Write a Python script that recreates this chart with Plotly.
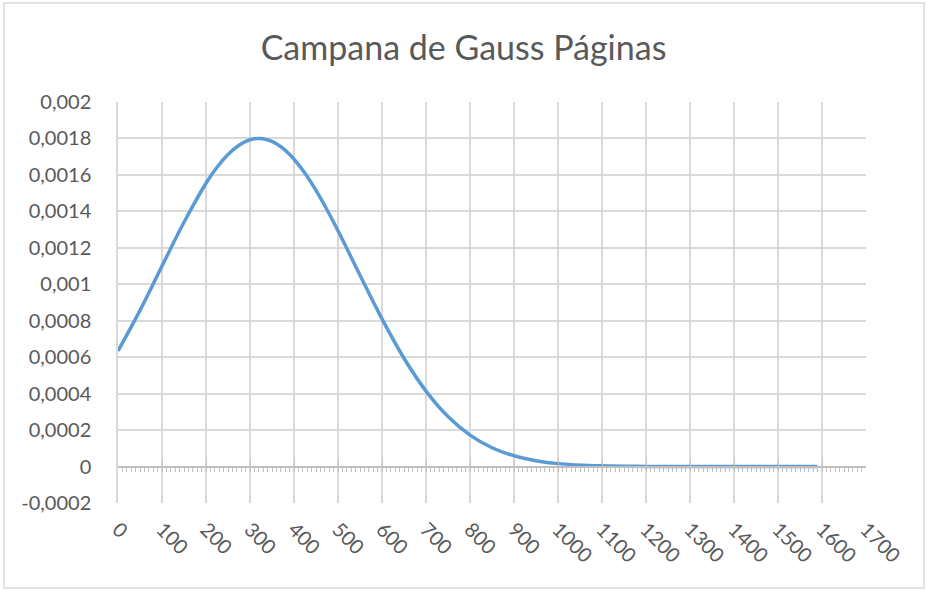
import plotly.graph_objects as go

# Data
x_vals = [0, 50, 100, 150, 200, 225, 250, 275, 300, 325, 350, 375, 400, 425, 450, 475,
          500, 550, 600, 650, 700, 750, 800, 850, 900, 950, 1000, 1100, 1200, 1300,
          1400, 1500, 1590]
y_vals = [0.000634, 0.000857, 0.00110, 0.00134, 0.001554, 0.001642, 0.001712, 0.001763,
          0.001793, 0.001800, 0.001784, 0.001745, 0.001686, 0.001609, 0.001515, 0.001409,
          0.001294, 0.00105, 0.00081, 0.000594, 0.000414, 0.000274, 0.000172, 0.000103,
          0.000059, 0.000032, 0.000016, 0.000004, 0.0000007, 0.0000001, 0.0, 0.0, 0.0]

x_ticks = list(range(0, 1701, 100))
y_ticks = [-0.0002, 0.0, 0.0002, 0.0004, 0.0006, 0.0008, 0.001, 0.0012, 0.0014,
           0.0016, 0.0018, 0.002]
y_tick_text = ["-0,0002", "0", "0,0002", "0,0004", "0,0006", "0,0008", "0,001",
               "0,0012", "0,0014", "0,0016", "0,0018", "0,002"]

title_text = "Campana de Gauss Páginas"

FONT = "Lato, 'Open Sans', sans-serif"
GRID = "#d9d9d9"
TXT = "#595959"

x_range = [0, 1700]
y_range = [-0.0002, 0.002]

fig = go.Figure()
fig.add_trace(go.Scatter(x=x_vals, y=y_vals, mode="lines",
                         line=dict(color="#5b9bd5", width=3.5, shape="spline",
                                   smoothing=1.0),
                         hoverinfo="skip", showlegend=False))
# helper trace on the zero-line axis (invisible) so the axis is drawn
fig.add_trace(go.Scatter(x=x_vals, y=y_vals, mode="lines", xaxis="x2", yaxis="y",
                         line=dict(color="rgba(0,0,0,0)", width=0),
                         hoverinfo="skip", showlegend=False))

zero_pos = (0 - y_range[0]) / (y_range[1] - y_range[0])

fig.update_layout(
    width=927, height=590,
    margin=dict(l=118, r=61, t=102, b=87),
    paper_bgcolor="white", plot_bgcolor="white",
    title=dict(text=title_text, x=0.5, xref="container", xanchor="center",
               y=1 - 48 / 590, yanchor="middle",
               font=dict(family=FONT, size=34, color=TXT)),
    font=dict(family=FONT, color=TXT),
    xaxis=dict(range=x_range, tickvals=x_ticks, ticktext=[str(v) for v in x_ticks],
               tickangle=45, showgrid=True, gridcolor=GRID, gridwidth=1.5,
               showline=False, zeroline=False, ticks="outside", ticklen=6,
               tickcolor="rgba(0,0,0,0)",
               tickfont=dict(family=FONT, size=20, color=TXT)),
    xaxis2=dict(range=x_range, overlaying="x", anchor="free", position=zero_pos,
                side="bottom", showgrid=False, zeroline=False,
                showline=True, linecolor="#bfbfbf", linewidth=1.5,
                showticklabels=False, tickvals=x_ticks, ticks="inside", ticklen=6,
                tickcolor="#bfbfbf", tickwidth=1,
                minor=dict(dtick=10, ticks="outside", ticklen=5, tickcolor="#bfbfbf",
                           tickwidth=1, showgrid=False)),
    yaxis=dict(range=y_range, tickvals=y_ticks, ticktext=y_tick_text,
               showgrid=True, gridcolor=GRID, gridwidth=1.5,
               showline=True, linecolor=GRID, linewidth=1.5, zeroline=False,
               ticks="outside", ticklen=21, tickcolor="rgba(0,0,0,0)",
               tickfont=dict(family=FONT, size=20, color=TXT)),
)

# chart-area border (like Excel)
fig.add_shape(type="rect", xref="paper", yref="paper",
              x0=(4 - 118) / 748, x1=(924 - 118) / 748,
              y0=(503 - 588) / 401, y1=(503 - 3) / 401,
              line=dict(color=GRID, width=1.5), fillcolor="rgba(0,0,0,0)", layer="below")

fig.write_html("out.html",
               config={"displayModeBar": False},
               post_script="document.body.style.margin='0px';"
                           "document.body.style.overflow='hidden';")
